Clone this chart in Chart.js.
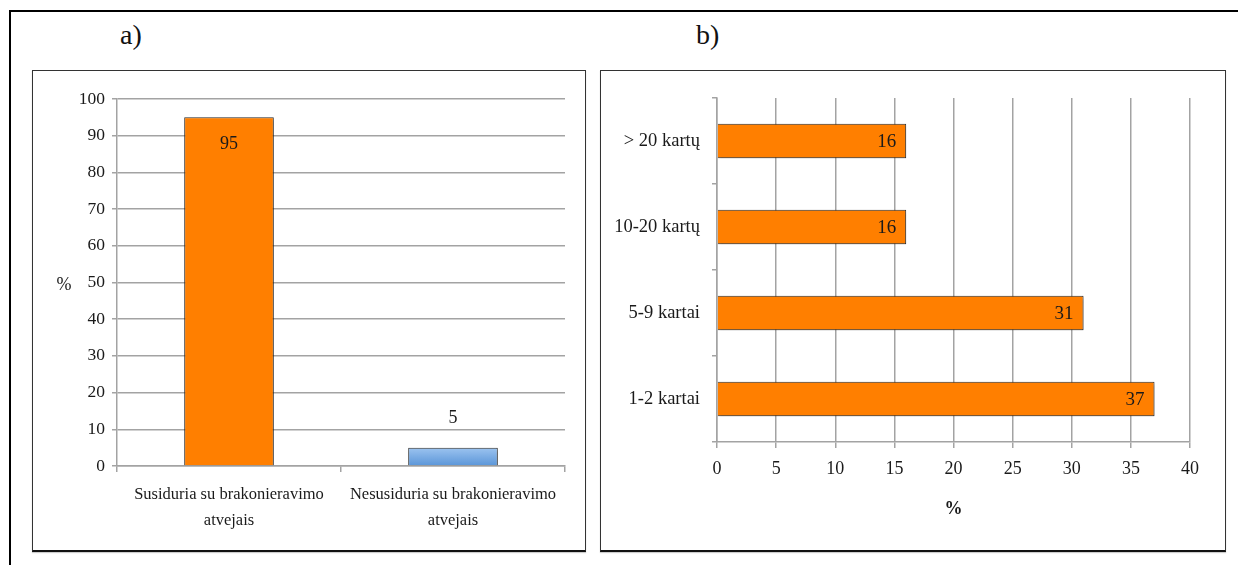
<!DOCTYPE html>
<html>
<head>
<meta charset="utf-8">
<script src="https://cdn.jsdelivr.net/npm/chart.js@4.4.1/dist/chart.umd.min.js"></script>
<style>
  html, body { margin:0; padding:0; background:#fff; }
  body { width:1238px; height:565px; position:relative; overflow:hidden; font-family:"Liberation Serif", serif; }
  #frame { position:absolute; left:9px; top:10px; width:1300px; height:700px; border-top:2px solid #000; border-left:2px solid #000; }
  .lbl { position:absolute; font-size:28px; color:#111; line-height:1; }
  .panel { position:absolute; top:70px; height:479px; border:1px solid #333; border-bottom:2px solid #111; box-shadow:0 1px 1px #ccc; background:#fff; }
  .panel canvas { position:absolute; left:0; top:0; }
</style>
</head>
<body>
<div id="frame"></div>
<div class="lbl" style="left:120px; top:21px;">a)</div>
<div class="lbl" style="left:696px; top:21px;">b)</div>
<div class="panel" style="left:32px; width:552px;"><canvas id="ca" width="552" height="479"></canvas></div>
<div class="panel" style="left:600px; width:624px;"><canvas id="cb" width="624" height="479"></canvas></div>
<script>
// ---- Data: chart a) ----
const categoriesA = [["Susiduria su brakonieravimo", "atvejais"], ["Nesusiduria su brakonieravimo", "atvejais"]];
const valuesA = [95, 5];
const axisTitleA = "%";
const yMinA = 0, yMaxA = 100, yStepA = 10;

// ---- Data: chart b) ----
const categoriesB = ["> 20 kartų", "10-20 kartų", "5-9 kartai", "1-2 kartai"];
const valuesB = [16, 16, 31, 37];
const axisTitleB = "%";
const xMinB = 0, xMaxB = 40, xStepB = 5;

const FONT = '"Liberation Serif", "Times New Roman", serif';
const GRID = '#a3a3a3';
const TEXT = '#1a1a1a';
const ORANGE = '#FF7F00';

const shadowPlugin = {
  id: 'barShadow',
  beforeDatasetsDraw(chart) {
    const ctx = chart.ctx; ctx.save();
    ctx.shadowColor = 'rgba(0,0,0,0.28)'; ctx.shadowBlur = 3; ctx.shadowOffsetX = 1; ctx.shadowOffsetY = 2;
  },
  afterDatasetsDraw(chart) { chart.ctx.restore(); }
};

// ---------- Chart a ----------
const labelsA = {
  id: 'labelsA',
  afterDatasetsDraw(chart) {
    const ctx = chart.ctx, meta = chart.getDatasetMeta(0);
    ctx.save();
    ctx.font = '18px ' + FONT; ctx.fillStyle = TEXT; ctx.textAlign = 'center'; ctx.textBaseline = 'middle';
    meta.data.forEach((bar, i) => {
      const inside = (bar.base - bar.y) > 60;
      ctx.fillText(String(valuesA[i]), bar.x, inside ? bar.y + 27 : bar.y - 29);
    });
    ctx.restore();
  },
  afterDraw(chart) {
    const ctx = chart.ctx, a = chart.chartArea;
    ctx.save();
    ctx.font = '18px ' + FONT; ctx.fillStyle = TEXT; ctx.textAlign = 'center'; ctx.textBaseline = 'middle';
    ctx.fillText(axisTitleA, 31, (a.top + a.bottom) / 2 + 3);
    ctx.restore();
  }
};

new Chart(document.getElementById('ca'), {
  type: 'bar',
  data: {
    labels: categoriesA,
    datasets: [{
      data: valuesA,
      backgroundColor(c) {
        if (c.dataIndex === 0) return ORANGE;
        const ch = c.chart, area = ch.chartArea;
        if (!area) return '#6fa6e3';
        const el = c.element;
        const top = el && isFinite(el.y) ? el.y : area.bottom - 20;
        const g = ch.ctx.createLinearGradient(0, top, 0, area.bottom);
        g.addColorStop(0, '#a2c8f2'); g.addColorStop(1, '#5a95d8');
        return g;
      },
      borderColor: '#2b2b2b',
      borderWidth: 1,
      barPercentage: 0.4,
      categoryPercentage: 1
    }]
  },
  options: {
    responsive: false, animation: false,
    layout: { padding: { top: 28, right: 20, left: 0, bottom: 0 } },
    plugins: { legend: { display: false }, tooltip: { enabled: false } },
    scales: {
      x: {
        grid: { display: true, drawOnChartArea: false, drawTicks: true, tickLength: 6, color: GRID, lineWidth: 1.5, offset: true },
        border: { display: true, color: GRID, width: 1.5 },
        ticks: { color: TEXT, font: { family: FONT, size: 16.5, lineHeight: 1.58 }, padding: 10, maxRotation: 0, autoSkip: false },
        afterFit(s) { s.height = 84; }
      },
      y: {
        min: yMinA, max: yMaxA,
        ticks: { stepSize: yStepA, color: TEXT, font: { family: FONT, size: 17.5 }, padding: 7 },
        grid: { color: GRID, lineWidth: 1.5, tickLength: 5, drawTicks: true },
        border: { display: true, color: GRID, width: 1.5 },
        afterFit(s) { s.width = 84; }
      }
    }
  },
  plugins: [shadowPlugin, labelsA]
});

// ---------- Chart b ----------
const labelsB = {
  id: 'labelsB',
  afterDatasetsDraw(chart) {
    const ctx = chart.ctx, meta = chart.getDatasetMeta(0);
    ctx.save();
    ctx.font = '19px ' + FONT; ctx.fillStyle = TEXT; ctx.textAlign = 'right'; ctx.textBaseline = 'middle';
    meta.data.forEach((bar, i) => { ctx.fillText(String(valuesB[i]), bar.x - 10, bar.y + 1); });
    ctx.restore();
  }
};

new Chart(document.getElementById('cb'), {
  type: 'bar',
  data: {
    labels: categoriesB,
    datasets: [{
      data: valuesB,
      backgroundColor: ORANGE,
      borderColor: '#2b2b2b',
      borderWidth: 1,
      barPercentage: 0.4,
      categoryPercentage: 1
    }]
  },
  options: {
    indexAxis: 'y',
    responsive: false, animation: false,
    layout: { padding: { top: 27, right: 35, left: 0, bottom: 0 } },
    plugins: { legend: { display: false }, tooltip: { enabled: false } },
    scales: {
      x: {
        min: xMinB, max: xMaxB,
        ticks: { stepSize: xStepB, color: TEXT, font: { family: FONT, size: 18 }, padding: 10 },
        grid: { color: GRID, lineWidth: 1.5, tickLength: 6, drawTicks: true },
        border: { display: true, color: GRID, width: 1.5 },
        title: { display: true, text: axisTitleB, color: TEXT, font: { family: FONT, size: 18, weight: 'bold' }, padding: { top: 0, bottom: 30 } },
        afterFit(s) { s.height = 108; }
      },
      y: {
        grid: { display: true, drawOnChartArea: false, drawTicks: true, tickLength: 5, color: GRID, lineWidth: 1.5, offset: true },
        border: { display: true, color: GRID, width: 1.5 },
        ticks: { color: TEXT, font: { family: FONT, size: 18.5 }, padding: 12, autoSkip: false },
        afterFit(s) { s.width = 116; }
      }
    }
  },
  plugins: [shadowPlugin, labelsB]
});
</script>
</body>
</html>
